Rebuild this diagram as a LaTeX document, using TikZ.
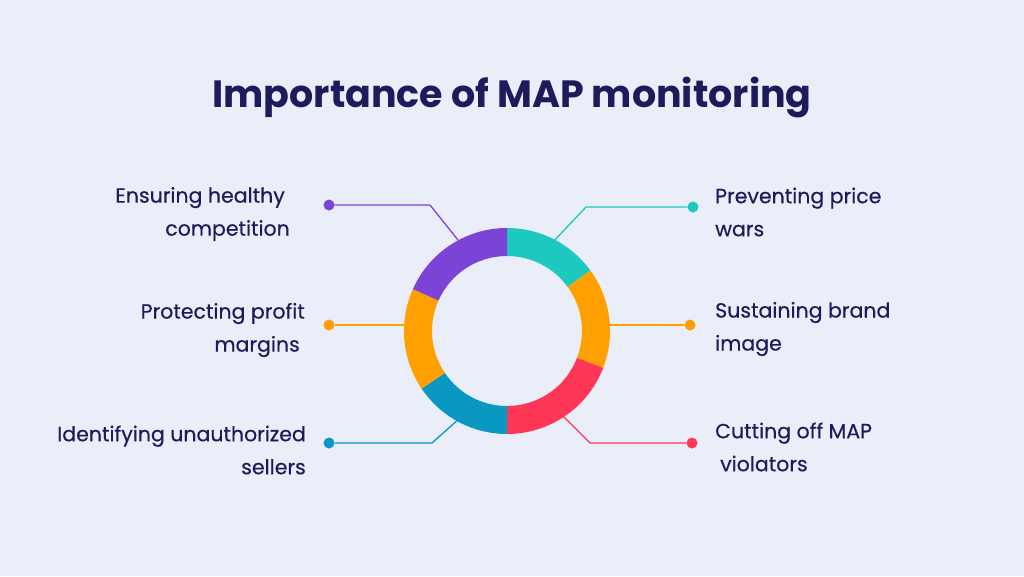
\documentclass[tikz,border=0pt]{standalone}
\usepackage{fontspec}
\usetikzlibrary{calc}
\setmainfont{Poppins}[FakeBold=0.4]
\newfontfamily\titlefont{Poppins}
\definecolor{bg}{HTML}{EAEEF8}
\definecolor{navy}{HTML}{1E1B5C}
\definecolor{cteal}{HTML}{1DC9BF}
\definecolor{corange}{HTML}{FF9F00}
\definecolor{cred}{HTML}{FF3757}
\definecolor{cblue}{HTML}{0898C2}
\definecolor{cpurple}{HTML}{7B43D6}
\tikzset{
 lbl/.style={text=navy,font=\fontsize{20.5}{33}\selectfont,inner sep=0pt},
 lblL/.style={lbl,align=right,anchor=east},
 lblR/.style={lbl,align=left,anchor=west},
 dot/.style={circle,fill=#1,minimum size=11pt,inner sep=0pt},
 conn/.style={draw=#1,line width=1.3pt}
}
\begin{document}
\begin{tikzpicture}[x=1pt,y=-1pt]
\fill[bg] (0,0) rectangle (1024,576);
\useasboundingbox (0,0) rectangle (1024,576);
\node[text=navy,font=\titlefont\fontsize{38}{44}\selectfont\bfseries] (title) at (512,98) {Importance of MAP monitoring};
\coordinate (c) at (507,331);
% connectors
\node[dot=cpurple] (dp) at (329,205) {};
\node[dot=cteal] (dt) at (693,207) {};
\node[dot=corange] (dol) at (329,325) {};
\node[dot=corange] (dor) at (690,325) {};
\node[dot=cblue] (db) at (329,443) {};
\node[dot=cred] (dr) at (692,443) {};
\coordinate (kp) at (430,205); \coordinate (ep) at (462,245);
\coordinate (kt) at (586,207); \coordinate (et) at (552,243);
\coordinate (kb) at (432,443); \coordinate (eb) at (460,418);
\coordinate (kr) at (590,443); \coordinate (er) at (562,415);
\coordinate (eol) at (410,325); \coordinate (eor) at (605,325);
\draw[conn=cpurple] (dp) -- (kp) -- (ep);
\draw[conn=cteal] (dt) -- (kt) -- (et);
\draw[conn=cblue] (db) -- (kb) -- (eb);
\draw[conn=cred] (dr) -- (kr) -- (er);
\draw[conn=corange] (dol) -- (eol);
\draw[conn=corange] (dor) -- (eor);
% ring (y axis flipped: use negative angles)
\foreach \a/\b/\col in {-90/-36/cteal, -36/21/corange, 21/90/cred, 90/146/cblue, 146/204/corange, 204/270/cpurple}{
 \fill[\col] ($(c)+(\a:103)$) arc[start angle=\a,end angle=\b,radius=103] -- ($(c)+(\b:75)$) arc[start angle=\b,end angle=\a,radius=75] -- cycle;
}
\node[lblL] (l1) at (290,214) {Ensuring healthy\hspace*{5pt}\\competition};
\node[lblL] (l2) at (305,330) {Protecting profit\\margins\hspace*{5pt}};
\node[lblL] (l3) at (306,450) {Identifying unauthorized\\sellers};
\node[lblR] (r1) at (715,212) {Preventing price\\wars};
\node[lblR] (r2) at (715,329) {Sustaining brand\\image};
\node[lblR] (r3) at (715,447) {Cutting off MAP\\\hspace*{5pt}violators};
\end{tikzpicture}
\end{document}
